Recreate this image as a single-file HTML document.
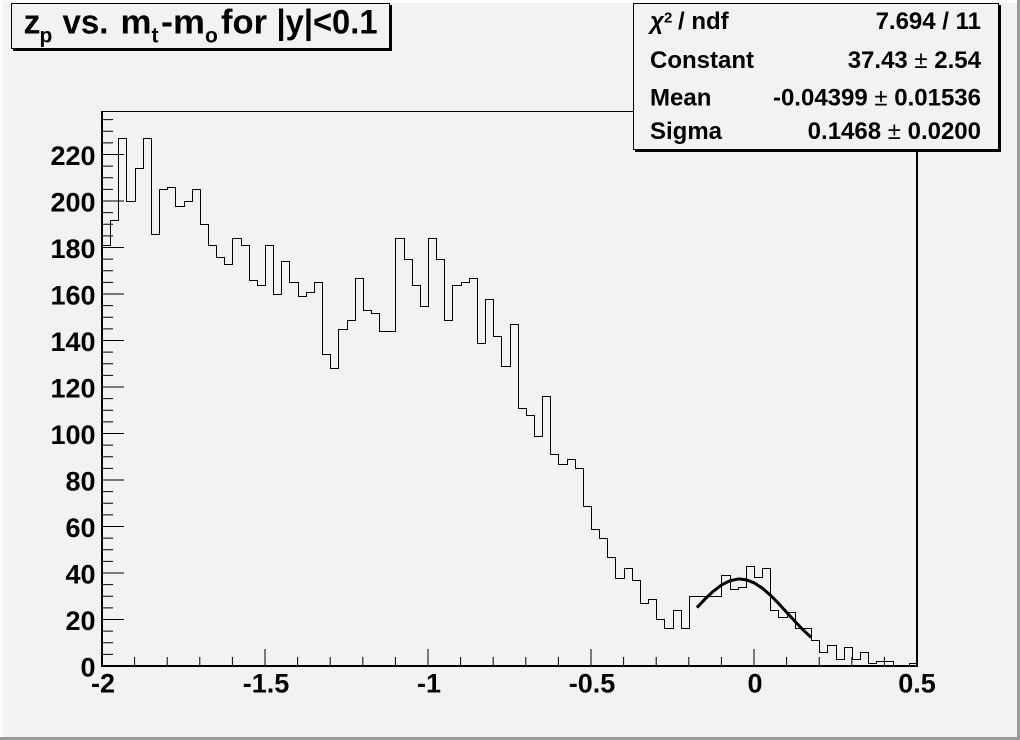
<!DOCTYPE html>
<html>
<head>
<meta charset="utf-8">
<style>
html,body{margin:0;padding:0;background:#f2f2f2;}
svg{display:block;}
text{font-family:"Liberation Sans",Arial,sans-serif;font-weight:bold;fill:#000;}
</style>
</head>
<body>
<svg width="1020" height="740" viewBox="0 0 1020 740" xmlns="http://www.w3.org/2000/svg">
  <!-- canvas -->
  <rect x="0" y="0" width="1020" height="740" fill="#f2f2f2"/>
  <rect x="0" y="0" width="1020" height="3" fill="#fcfcfc"/>
  <rect x="0" y="0" width="3" height="740" fill="#fcfcfc"/>
  <rect x="1017" y="0" width="3" height="740" fill="#9a9a9a"/>
  <rect x="0" y="737" width="1020" height="3" fill="#9a9a9a"/>

  <!-- frame -->
  <rect x="102.5" y="111.5" width="815" height="555" fill="none" stroke="#000" stroke-width="1"/>
  <line x1="917" y1="111" x2="917" y2="667" stroke="#000" stroke-width="2"/>

  <!-- histogram -->
  <path fill="none" stroke="#000" stroke-width="1" shape-rendering="crispEdges" d="M102.5 666.5 V245.5 H110.5 V220.5 H118.5 V138.5 H126.5 V201.5 H135.5 V168.5 H143.5 V138.5 H151.5 V234.5 H159.5 V189.5 H167.5 V187.5 H175.5 V206.5 H184.5 V201.5 H192.5 V189.5 H200.5 V224.5 H208.5 V245.5 H216.5 V257.5 H224.5 V264.5 H232.5 V238.5 H241.5 V245.5 H249.5 V280.5 H257.5 V285.5 H265.5 V245.5 H273.5 V294.5 H281.5 V261.5 H289.5 V282.5 H298.5 V296.5 H306.5 V292.5 H314.5 V282.5 H322.5 V354.5 H330.5 V368.5 H338.5 V329.5 H347.5 V320.5 H355.5 V278.5 H363.5 V310.5 H371.5 V313.5 H379.5 V331.5 H395.5 V238.5 H404.5 V259.5 H412.5 V285.5 H420.5 V306.5 H428.5 V238.5 H436.5 V259.5 H444.5 V320.5 H452.5 V285.5 H461.5 V282.5 H469.5 V278.5 H477.5 V343.5 H485.5 V299.5 H493.5 V336.5 H501.5 V366.5 H510.5 V324.5 H518.5 V408.5 H526.5 V415.5 H534.5 V436.5 H542.5 V396.5 H550.5 V454.5 H558.5 V464.5 H567.5 V459.5 H575.5 V468.5 H583.5 V506.5 H591.5 V529.5 H599.5 V538.5 H607.5 V557.5 H615.5 V578.5 H624.5 V568.5 H632.5 V580.5 H640.5 V603.5 H648.5 V599.5 H656.5 V619.5 H664.5 V628.5 H673.5 V610.5 H681.5 V628.5 H689.5 V596.5 H721.5 V575.5 H730.5 V589.5 H738.5 V587.5 H746.5 V566.5 H754.5 V577.5 H762.5 V568.5 H770.5 V610.5 H778.5 V617.5 H787.5 V612.5 H795.5 V628.5 H811.5 V640.5 H819.5 V652.5 H827.5 V645.5 H836.5 V659.5 H844.5 V647.5 H852.5 V659.5 H860.5 V652.5 H868.5 V663.5 H876.5 V661.5 H893.5 V666.5 H909.5 V663.5 H917.5 V666.5"/>

  <!-- gaussian fit -->
  <polyline fill="none" stroke="#000" stroke-width="3" stroke-linejoin="round" stroke-linecap="butt"
    points="696.95,607.6 705.1,598.95 713.25,591.27 721.4,585.09 729.55,580.9 737.7,579.05 739.66,578.98 745.85,579.7 754,582.79 762.15,588.07 770.3,595.11 778.45,603.34 786.6,612.21 794.75,621.14 802.9,629.66 811.05,637.4"/>

  <!-- axes lines -->
  <line x1="101" y1="666" x2="918" y2="666" stroke="#000" stroke-width="2"/>
  <line x1="102" y1="111" x2="102" y2="667" stroke="#000" stroke-width="2"/>

  <!-- y ticks -->
  <path stroke="#000" stroke-width="1" fill="none" d="
M102 666 H124 M102 654.4 H113 M102 642.75 H113 M102 631.1 H113
M102 619.5 H124 M102 607.9 H113 M102 596.25 H113 M102 584.6 H113
M102 573 H124 M102 561.4 H113 M102 549.75 H113 M102 538.1 H113
M102 526.5 H124 M102 514.9 H113 M102 503.25 H113 M102 491.6 H113
M102 480 H124 M102 468.4 H113 M102 456.75 H113 M102 445.1 H113
M102 433.5 H124 M102 421.9 H113 M102 410.25 H113 M102 398.6 H113
M102 387 H124 M102 375.4 H113 M102 363.75 H113 M102 352.1 H113
M102 340.5 H124 M102 328.9 H113 M102 317.25 H113 M102 305.6 H113
M102 294 H124 M102 282.4 H113 M102 270.75 H113 M102 259.1 H113
M102 247.5 H124 M102 235.9 H113 M102 224.25 H113 M102 212.6 H113
M102 201 H124 M102 189.4 H113 M102 177.75 H113 M102 166.1 H113
M102 154.5 H124 M102 142.9 H113 M102 131.25 H113 M102 119.6 H113"/>

  <!-- x ticks -->
  <path stroke="#000" stroke-width="1" fill="none" d="
M102 666 V649 M134.6 666 V657 M167.2 666 V657 M199.8 666 V657 M232.4 666 V657
M265 666 V649 M297.6 666 V657 M330.2 666 V657 M362.8 666 V657 M395.4 666 V657
M428 666 V649 M460.6 666 V657 M493.2 666 V657 M525.8 666 V657 M558.4 666 V657
M591 666 V649 M623.6 666 V657 M656.2 666 V657 M688.8 666 V657 M721.4 666 V657
M754 666 V649 M786.6 666 V657 M819.2 666 V657 M851.8 666 V657 M884.4 666 V657
M917 666 V649"/>

  <!-- y labels -->
  <g font-size="27" text-anchor="end">
    <text x="95.5" y="676.5">0</text>
    <text x="95.5" y="630">20</text>
    <text x="95.5" y="583.5">40</text>
    <text x="95.5" y="537">60</text>
    <text x="95.5" y="490.5">80</text>
    <text x="95.5" y="444">100</text>
    <text x="95.5" y="397.5">120</text>
    <text x="95.5" y="351">140</text>
    <text x="95.5" y="304.5">160</text>
    <text x="95.5" y="258">180</text>
    <text x="95.5" y="211.5">200</text>
    <text x="95.5" y="165">220</text>
  </g>

  <!-- x labels -->
  <g font-size="27" text-anchor="middle">
    <text x="103" y="692.5">-2</text>
    <text x="266" y="692.5">-1.5</text>
    <text x="429" y="692.5">-1</text>
    <text x="592" y="692.5">-0.5</text>
    <text x="755" y="692.5">0</text>
    <text x="917" y="692.5">0.5</text>
  </g>

  <!-- title box -->
  <rect x="13" y="5" width="379" height="46" fill="#000"/>
  <rect x="11.5" y="3.5" width="378" height="45" fill="#f2f2f2" stroke="#000" stroke-width="1"/>
  <g font-size="34">
    <text x="23.5" y="33.5">z</text>
    <text x="39.5" y="42.5" font-size="21">p</text>
    <text x="62.5" y="33.5" textLength="46" lengthAdjust="spacingAndGlyphs">vs.</text>
    <text x="120.5" y="33.5" textLength="31" lengthAdjust="spacingAndGlyphs">m</text>
    <text x="151.5" y="42.5" font-size="21">t</text>
    <text x="161" y="33.5" textLength="44" lengthAdjust="spacingAndGlyphs">-m</text>
    <text x="205" y="42.5" font-size="21">o</text>
    <text x="221" y="33.5" textLength="46" lengthAdjust="spacingAndGlyphs">for</text>
    <text x="276.5" y="33.5" textLength="101" lengthAdjust="spacingAndGlyphs">|y|&lt;0.1</text>
  </g>

  <!-- stats box -->
  <rect x="635" y="5" width="366" height="147" fill="#000"/>
  <rect x="633.5" y="3.5" width="365" height="146" fill="#f2f2f2" stroke="#000" stroke-width="1"/>
  <g font-size="24">
    <text x="650" y="29" font-style="italic" font-weight="normal">χ</text>
    <text x="664" y="22.5" font-size="15">2</text>
    <text x="678" y="29">/ ndf</text>
    <text x="981" y="29" text-anchor="end">7.694 / 11</text>

    <text x="650" y="68">Constant</text>
    <text x="981" y="68" text-anchor="end">37.43<tspan font-weight="normal"> ± </tspan>2.54</text>

    <text x="650" y="105.5">Mean</text>
    <text x="981" y="105.5" text-anchor="end">-0.04399<tspan font-weight="normal"> ± </tspan>0.01536</text>

    <text x="650" y="139">Sigma</text>
    <text x="981" y="139" text-anchor="end">0.1468<tspan font-weight="normal"> ± </tspan>0.0200</text>
  </g>
</svg>
</body>
</html>
